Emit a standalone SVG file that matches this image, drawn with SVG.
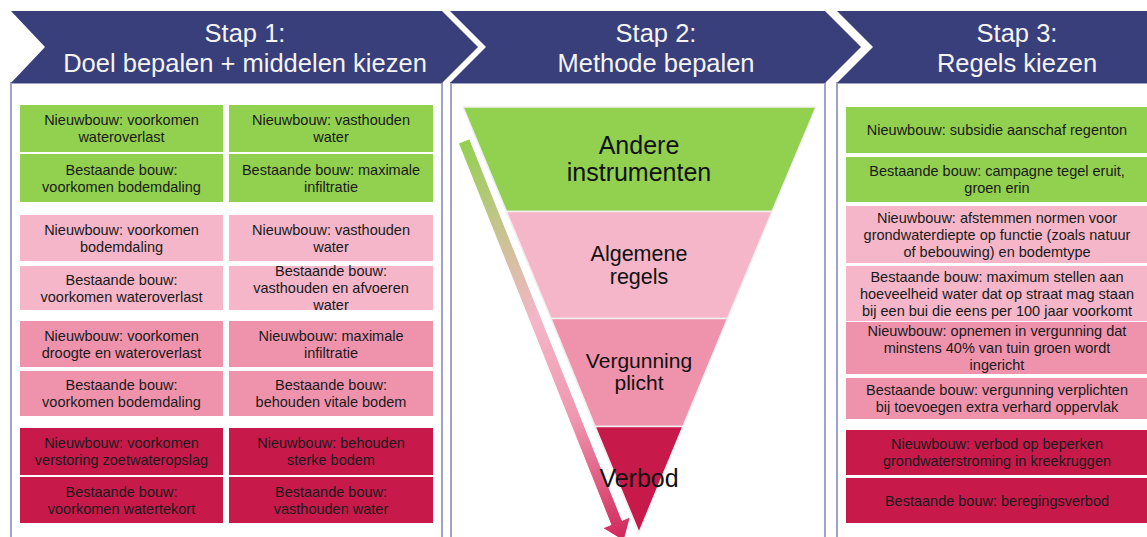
<svg xmlns="http://www.w3.org/2000/svg" width="1147" height="537" viewBox="0 0 1147 537">
<style>
.hdr{fill:#383f7a}
.hdrt{font-family:"Liberation Sans",Arial,sans-serif;font-size:25.5px;fill:#f4f4f4;text-anchor:middle}
.panel{fill:#fff;stroke:#a0a3c8;stroke-width:2}
.g{fill:#92d050}
.p1{fill:#f4b6c8}
.p2{fill:#ef93ad}
.p3{fill:#c8194b}
.bt{font-family:"Liberation Sans",Arial,sans-serif;font-size:14.5px;fill:#1a1a1a;text-anchor:middle}
.ft{font-family:"Liberation Sans",Arial,sans-serif;fill:#111;text-anchor:middle}
.lay{stroke:#f2eef0;stroke-width:1.5}
</style>
<defs>
<linearGradient id="arrg" gradientUnits="userSpaceOnUse" x1="464" y1="141" x2="622" y2="538">
<stop offset="0" stop-color="#92d050"/>
<stop offset="0.22" stop-color="#c6c48e"/>
<stop offset="0.45" stop-color="#f4b6c8"/>
<stop offset="0.7" stop-color="#ee97b0"/>
<stop offset="1" stop-color="#d2285c"/>
</linearGradient>
</defs>
<rect width="1147" height="537" fill="#fff"/>

<g id="panels">
<rect class="panel" x="11" y="83" width="431" height="470"/>
<rect class="panel" x="451" y="83" width="374" height="470"/>
<rect class="panel" x="837" y="83" width="320" height="470"/>
</g>

<g id="header-stap1">
<polygon class="hdr" points="11,11 442,11 478,47 442,83 11,83 45,47"/>
<text class="hdrt" x="245" y="42">Stap 1:</text>
<text class="hdrt" x="245" y="72">Doel bepalen + middelen kiezen</text>
</g>
<g id="header-stap2">
<polygon class="hdr" points="450,11 825,11 861,47 825,83 450,83 486,47"/>
<text class="hdrt" x="656" y="42">Stap 2:</text>
<text class="hdrt" x="656" y="72">Methode bepalen</text>
</g>
<g id="header-stap3">
<polygon class="hdr" points="837,11 1150,11 1150,83 837,83 873,47"/>
<text class="hdrt" x="1017" y="42">Stap 3:</text>
<text class="hdrt" x="1017" y="72">Regels kiezen</text>
</g>

<!-- Step 1 boxes -->
<g id="s1-r1c1"><rect class="g" x="20" y="105" width="203" height="47"/><text class="bt" x="121.5" y="125">Nieuwbouw: voorkomen</text><text class="bt" x="121.5" y="142">wateroverlast</text></g>
<g id="s1-r1c2"><rect class="g" x="229" y="105" width="204" height="47"/><text class="bt" x="331" y="125">Nieuwbouw: vasthouden</text><text class="bt" x="331" y="142">water</text></g>
<g id="s1-r2c1"><rect class="g" x="20" y="154" width="203" height="48"/><text class="bt" x="121.5" y="174.5">Bestaande bouw:</text><text class="bt" x="121.5" y="191.5">voorkomen bodemdaling</text></g>
<g id="s1-r2c2"><rect class="g" x="229" y="154" width="204" height="48"/><text class="bt" x="331" y="174.5">Bestaande bouw: maximale</text><text class="bt" x="331" y="191.5">infiltratie</text></g>

<g id="s1-r3c1"><rect class="p1" x="20" y="215" width="203" height="46"/><text class="bt" x="121.5" y="234.5">Nieuwbouw: voorkomen</text><text class="bt" x="121.5" y="251.5">bodemdaling</text></g>
<g id="s1-r3c2"><rect class="p1" x="229" y="215" width="204" height="46"/><text class="bt" x="331" y="234.5">Nieuwbouw: vasthouden</text><text class="bt" x="331" y="251.5">water</text></g>
<g id="s1-r4c1"><rect class="p1" x="20" y="266" width="203" height="44"/><text class="bt" x="121.5" y="284.5">Bestaande bouw:</text><text class="bt" x="121.5" y="301.5">voorkomen wateroverlast</text></g>
<g id="s1-r4c2"><rect class="p1" x="229" y="266" width="204" height="44"/><text class="bt" x="331" y="276">Bestaande bouw:</text><text class="bt" x="331" y="293">vasthouden en afvoeren</text><text class="bt" x="331" y="310">water</text></g>

<g id="s1-r5c1"><rect class="p2" x="20" y="321" width="203" height="46"/><text class="bt" x="121.5" y="340.5">Nieuwbouw: voorkomen</text><text class="bt" x="121.5" y="357.5">droogte en wateroverlast</text></g>
<g id="s1-r5c2"><rect class="p2" x="229" y="321" width="204" height="46"/><text class="bt" x="331" y="340.5">Nieuwbouw: maximale</text><text class="bt" x="331" y="357.5">infiltratie</text></g>
<g id="s1-r6c1"><rect class="p2" x="20" y="371" width="203" height="45"/><text class="bt" x="121.5" y="390">Bestaande bouw:</text><text class="bt" x="121.5" y="407">voorkomen bodemdaling</text></g>
<g id="s1-r6c2"><rect class="p2" x="229" y="371" width="204" height="45"/><text class="bt" x="331" y="390">Bestaande bouw:</text><text class="bt" x="331" y="407">behouden vitale bodem</text></g>

<g id="s1-r7c1"><rect class="p3" x="20" y="428" width="203" height="47"/><text class="bt" x="121.5" y="448">Nieuwbouw: voorkomen</text><text class="bt" x="121.5" y="465">verstoring zoetwateropslag</text></g>
<g id="s1-r7c2"><rect class="p3" x="229" y="428" width="204" height="47"/><text class="bt" x="331" y="448">Nieuwbouw: behouden</text><text class="bt" x="331" y="465">sterke bodem</text></g>
<g id="s1-r8c1"><rect class="p3" x="20" y="477" width="203" height="46"/><text class="bt" x="121.5" y="496.5">Bestaande bouw:</text><text class="bt" x="121.5" y="513.5">voorkomen watertekort</text></g>
<g id="s1-r8c2"><rect class="p3" x="229" y="477" width="204" height="46"/><text class="bt" x="331" y="496.5">Bestaande bouw:</text><text class="bt" x="331" y="513.5">vasthouden water</text></g>

<!-- Step 2 funnel -->
<g id="funnel-andere"><polygon class="g lay" points="463,107 816,107 772,211.6 506.5,211.6"/><text class="ft" x="639" y="154" font-size="25px">Andere</text><text class="ft" x="639" y="180.5" font-size="25px">instrumenten</text></g>
<g id="funnel-algemene"><polygon class="p1 lay" points="506.5,211.6 772,211.6 727.5,318.5 551,318.5"/><text class="ft" x="639" y="260.5" font-size="21.5px">Algemene</text><text class="ft" x="639" y="284" font-size="21.5px">regels</text></g>
<g id="funnel-vergunning"><polygon class="p2 lay" points="551,318.5 727.5,318.5 683,426.4 595,426.4"/><text class="ft" x="639" y="367.5" font-size="21px">Vergunning</text><text class="ft" x="639" y="390" font-size="21px">plicht</text></g>
<g id="funnel-verbod"><polygon class="p3 lay" points="595,426.4 683,426.4 639,532.5"/></g>

<g id="connectors">
<polygon fill="url(#arrg)" stroke="#fff" stroke-width="1" points="458.4,143.2 610.9,524.7 602.6,528.1 623.9,541.1 630.4,516.9 622.1,520.3 469.6,138.8"/>
</g>
<text class="ft" x="639" y="487" font-size="25px">Verbod</text>

<!-- Step 3 boxes -->
<g id="s3-b1"><rect class="g" x="846" y="107" width="302" height="46"/><text class="bt" x="997" y="135">Nieuwbouw: subsidie aanschaf regenton</text></g>
<g id="s3-b2"><rect class="g" x="846" y="157" width="302" height="45"/><text class="bt" x="997" y="176">Bestaande bouw: campagne tegel eruit,</text><text class="bt" x="997" y="193">groen erin</text></g>
<g id="s3-b3"><rect class="p1" x="846" y="206" width="302" height="57"/><text class="bt" x="997" y="222.5">Nieuwbouw: afstemmen normen voor</text><text class="bt" x="997" y="239.5">grondwaterdiepte op functie (zoals natuur</text><text class="bt" x="997" y="256.5">of bebouwing) en bodemtype</text></g>
<g id="s3-b4"><rect class="p1" x="846" y="266" width="302" height="55"/><text class="bt" x="997" y="281.5">Bestaande bouw: maximum stellen aan</text><text class="bt" x="997" y="298.5">hoeveelheid water dat op straat mag staan</text><text class="bt" x="997" y="315.5">bij een bui die eens per 100 jaar voorkomt</text></g>
<g id="s3-b5"><rect class="p2" x="846" y="322" width="302" height="52"/><text class="bt" x="997" y="336">Nieuwbouw: opnemen in vergunning dat</text><text class="bt" x="997" y="353">minstens 40% van tuin groen wordt</text><text class="bt" x="997" y="370">ingericht</text></g>
<g id="s3-b6"><rect class="p2" x="846" y="378" width="302" height="41"/><text class="bt" x="997" y="395">Bestaande bouw: vergunning verplichten</text><text class="bt" x="997" y="412">bij toevoegen extra verhard oppervlak</text></g>
<g id="s3-b7"><rect class="p3" x="846" y="430" width="302" height="45"/><text class="bt" x="997" y="449">Nieuwbouw: verbod op beperken</text><text class="bt" x="997" y="466">grondwaterstroming in kreekruggen</text></g>
<g id="s3-b8"><rect class="p3" x="846" y="478" width="302" height="45"/><text class="bt" x="997" y="505.5">Bestaande bouw: beregingsverbod</text></g>
</svg>
